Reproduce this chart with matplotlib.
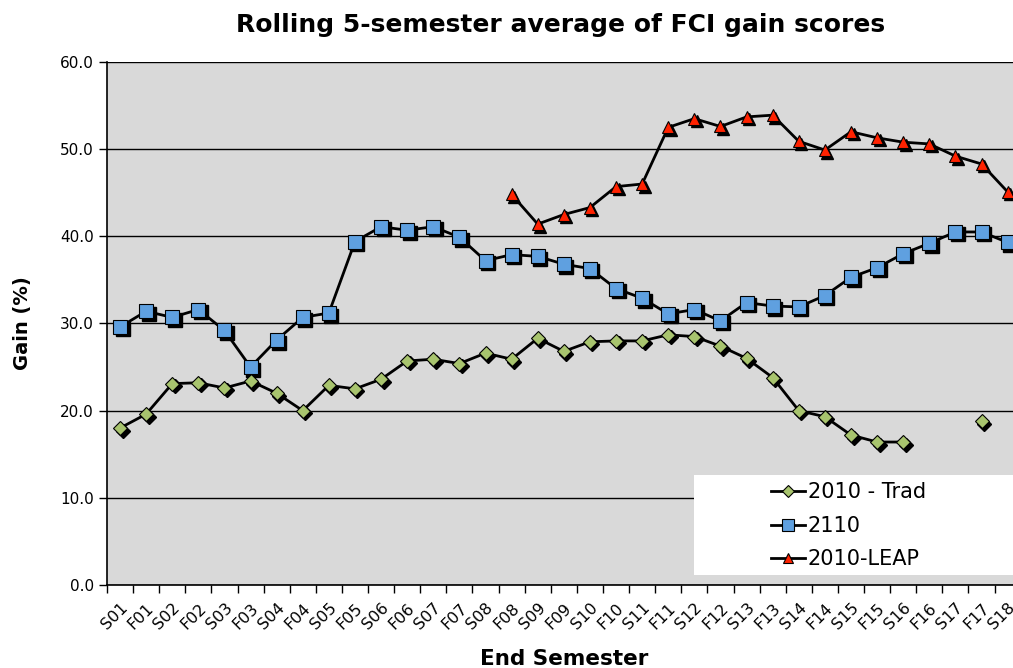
import numpy as np
import matplotlib
matplotlib.use("Agg")
import matplotlib.pyplot as plt
from matplotlib.patches import Rectangle
from matplotlib.transforms import offset_copy

# semestres no eixo x
semestres = ['S01', 'F01', 'S02', 'F02', 'S03', 'F03', 'S04', 'F04', 'S05', 'F05',
             'S06', 'F06', 'S07', 'F07', 'S08', 'F08', 'S09', 'F09', 'S10', 'F10',
             'S11', 'F11', 'S12', 'F12', 'S13', 'F13', 'S14', 'F14', 'S15', 'F15',
             'S16', 'F16', 'S17', 'F17', 'S18']

nan = np.nan
trad_2010 = [18.0, 19.6, 23.1, 23.2, 22.6, 23.4, 22.0, 20.0, 22.9, 22.5,
             23.6, 25.7, 25.9, 25.4, 26.6, 25.9, 28.3, 26.8, 27.9, 28.0,
             28.0, 28.7, 28.5, 27.4, 26.0, 23.8, 20.0, 19.3, 17.2, 16.4,
             16.4, nan, nan, 18.8, nan]
gain_2110 = [29.6, 31.4, 30.7, 31.6, 29.2, 25.0, 28.1, 30.7, 31.2, 39.4,
             41.1, 40.7, 41.1, 39.9, 37.2, 37.9, 37.7, 36.8, 36.3, 34.0,
             32.9, 31.1, 31.6, 30.3, 32.4, 32.0, 31.9, 33.2, 35.3, 36.4,
             38.0, 39.2, 40.5, 40.5, 39.3]
leap_2010 = [nan, nan, nan, nan, nan, nan, nan, nan, nan, nan,
             nan, nan, nan, nan, nan, 44.8, 41.4, 42.5, 43.3, 45.7,
             46.0, 52.5, 53.5, 52.6, 53.7, 53.9, 50.9, 49.9, 52.0, 51.3,
             50.8, 50.6, 49.2, 48.3, 45.1]

fig = plt.figure(figsize=(10.13, 6.68), dpi=100)
ax = fig.add_axes([0.1056, 0.1243, 0.902, 0.7829])
ax.set_facecolor('#d9d9d9')

x = np.arange(len(semestres))
sombra = offset_copy(ax.transData, fig=fig, x=2.5, y=-2.5, units='dots')

series = [
    (trad_2010, '2010 - Trad', 'D', 7, '#a8c46e'),
    (gain_2110, '2110', 's', 10, '#5fa0e0'),
    (leap_2010, '2010-LEAP', '^', 9, '#ff2200'),
]
for valores, nome, marcador, tam, cor in series:
    # sombra dos marcadores
    ax.plot(x, valores, linestyle='none', marker=marcador, markersize=tam,
            color='black', transform=sombra, zorder=3)
    ax.plot(x, valores, color='black', linewidth=2, marker=marcador,
            markersize=tam, markerfacecolor=cor, markeredgecolor='black',
            markeredgewidth=0.8, label=nome, zorder=4)

ax.set_xlim(-0.5, len(semestres) - 0.5)
ax.set_ylim(0, 60)
ax.set_yticks(np.arange(0, 61, 10))
ax.set_yticklabels([f'{v:.1f}' for v in np.arange(0, 61, 10)], fontsize=11)
ax.grid(axis='y', color='black', linewidth=1)
ax.set_axisbelow(True)

ax.set_xticks(x)
ax.set_xticklabels(semestres, rotation=45, ha='right', rotation_mode='anchor', fontsize=11.5)
ax.tick_params(axis='x', which='major', length=0, pad=11)
ax.set_xticks(np.arange(-0.5, len(semestres), 1), minor=True)
ax.tick_params(axis='x', which='minor', length=6, width=1, direction='out')
ax.tick_params(axis='y', length=6, width=1, direction='out')

for lado in ['top', 'right']:
    ax.spines[lado].set_visible(False)
ax.spines['left'].set_linewidth(1.2)
ax.spines['bottom'].set_linewidth(1.2)

ax.set_xlabel('End Semester', fontsize=15.5, fontweight='bold', labelpad=12)
ax.set_ylabel('Gain (%)', fontsize=14, fontweight='bold', labelpad=20)
fig.text(0.553, 0.962, 'Rolling 5-semester average of FCI gain scores',
         ha='center', va='center', fontsize=18, fontweight='bold')

# caixa branca da legenda
ax.add_patch(Rectangle((0.6425, 0.019), 0.4, 0.191, transform=ax.transAxes,
                       facecolor='white', edgecolor='none', zorder=5, clip_on=False))
leg = ax.legend(loc='upper left', bbox_to_anchor=(0.727, 0.196), fontsize=15,
                frameon=False, handlelength=1.6, borderpad=0, labelspacing=0.64,
                handletextpad=0.15, borderaxespad=0)
leg.set_zorder(6)
for h in leg.legend_handles:
    h.set_markersize(h.get_markersize() * 0.85)

fig.savefig('out.png', dpi=100)
